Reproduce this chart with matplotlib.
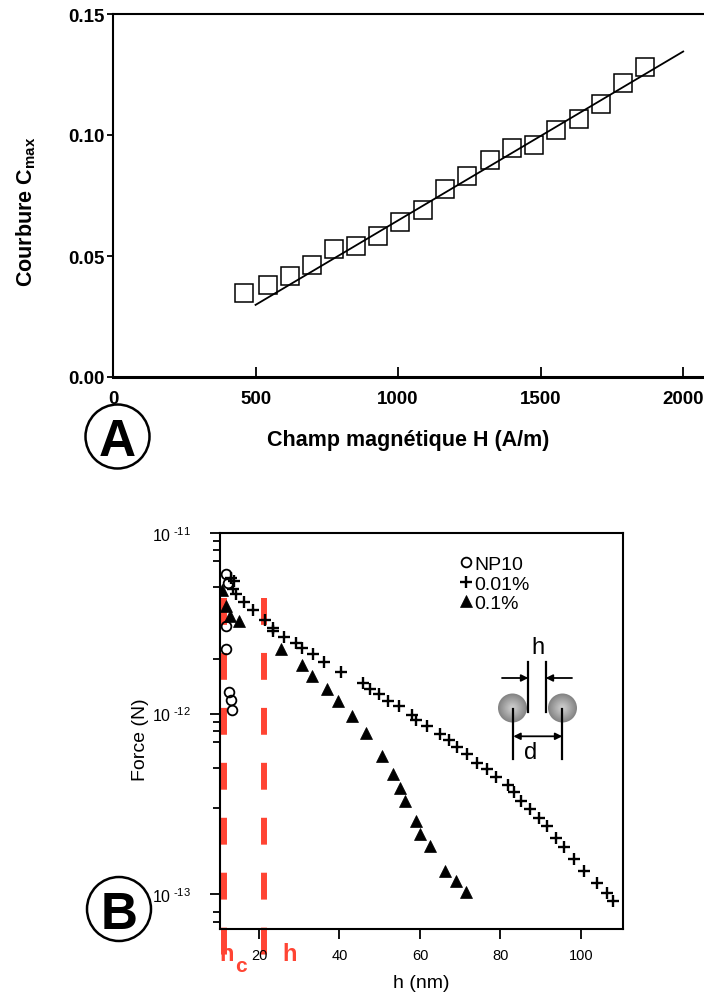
import matplotlib
matplotlib.use("Agg")
import matplotlib.pyplot as plt
from matplotlib.patches import Ellipse, Circle
from matplotlib.transforms import blended_transform_factory
from matplotlib.ticker import FixedLocator, NullFormatter
import numpy as np

plt.rcParams['font.family'] = ['Liberation Sans', 'DejaVu Sans']
plt.rcParams['mathtext.fontset'] = 'custom'
plt.rcParams['mathtext.rm'] = 'Liberation Sans'
plt.rcParams['mathtext.bf'] = 'Liberation Sans:bold'
plt.rcParams['mathtext.default'] = 'regular'

# --- panel A : courbure vs champ
champ_H = [461, 542, 621, 698, 775, 853, 931, 1008, 1087, 1164,
           1242, 1321, 1399, 1476, 1555, 1633, 1710, 1789, 1867]
courbure = [0.0346, 0.0380, 0.0416, 0.0462, 0.0529, 0.0543, 0.0581, 0.0639, 0.0691, 0.0776,
            0.0831, 0.0895, 0.0947, 0.0958, 0.1022, 0.1065, 0.1130, 0.1215, 0.1279]
fit_H = [500, 2000]
fit_C = [0.0298, 0.1345]

# --- panel B : force vs distance
np10_h = [11.8, 12.3, 11.8, 11.8, 12.5, 13.0, 13.4]
np10_F = [5.92e-12, 5.31e-12, 3.04e-12, 2.29e-12, 1.31e-12, 1.19e-12, 1.05e-12]

p001_h = [13.0, 13.8, 13.5, 14.3, 16.2, 18.4, 21.5, 23.4, 23.5, 26.2,
          29.1, 30.6, 33.3, 36.2, 40.4, 45.8, 47.5, 49.8, 52.1, 54.7,
          58.1, 59.0, 61.8, 65.0, 67.1, 69.3, 71.7, 74.1, 76.7, 78.8,
          81.9, 83.3, 85.0, 87.4, 89.5, 91.5, 93.9, 95.8, 98.3, 100.8,
          104.1, 106.6, 108.1]
p001_F = [5.66e-12, 5.39e-12, 4.92e-12, 4.62e-12, 4.17e-12, 3.75e-12, 3.29e-12, 2.98e-12, 2.85e-12, 2.66e-12,
          2.45e-12, 2.30e-12, 2.15e-12, 1.93e-12, 1.70e-12, 1.47e-12, 1.375e-12, 1.278e-12, 1.174e-12, 1.097e-12,
          9.85e-13, 9.18e-13, 8.56e-13, 7.69e-13, 7.15e-13, 6.49e-13, 5.96e-13, 5.31e-13, 4.95e-13, 4.43e-13,
          4.04e-13, 3.70e-13, 3.28e-13, 2.96e-13, 2.65e-13, 2.37e-13, 2.05e-13, 1.83e-13, 1.57e-13, 1.35e-13,
          1.147e-13, 1.014e-13, 9.16e-14]

p01_h = [10.9, 11.8, 12.7, 15.0, 25.5, 30.6, 33.1, 37.0, 39.7, 43.1,
         46.5, 50.6, 53.4, 55.1, 56.3, 59.1, 59.9, 62.4, 66.3, 69.0, 71.4]
p01_F = [4.86e-12, 3.92e-12, 3.47e-12, 3.26e-12, 2.28e-12, 1.85e-12, 1.62e-12, 1.36e-12, 1.18e-12, 9.66e-13,
         7.85e-13, 5.81e-13, 4.65e-13, 3.86e-13, 3.27e-13, 2.55e-13, 2.15e-13, 1.84e-13, 1.35e-13, 1.19e-13, 1.03e-13]

h_c = 11.2
h_lim = 21.2
red = '#ff4433'

y_major = [1e-13, 1e-12, 1e-11]
y_major_labels = [r'10$^{\text{ -13}}$', r'10$^{\text{ -12}}$', r'10$^{\text{ -11}}$']
y_minor = [7e-14, 8e-14, 3e-13, 5e-13, 7e-13, 8e-13, 9e-13, 2e-12, 5e-12, 7e-12, 8e-12, 9e-12]

fig = plt.figure(figsize=(7.04, 9.95), dpi=100)

# ================= A =================
axA = fig.add_axes([113/704, 1 - 378/995, (704 - 113)/704, (378 - 15)/995])
axA.plot(champ_H, courbure, 's', ms=12.5, mfc='none', mec='black', mew=1.1)
axA.plot(fit_H, fit_C, '-', color='black', lw=1.3)
axA.set_xlim(0, 2073)
axA.set_ylim(0, 0.15)
axA.set_xticks([0, 500, 1000, 1500, 2000])
axA.set_yticks([0.00, 0.05, 0.10, 0.15])
axA.set_yticklabels(['0.00', '0.05', '0.10', '0.15'])
axA.spines['right'].set_visible(False)
axA.spines['top'].set_linewidth(1.5)
axA.spines['left'].set_linewidth(1.5)
axA.spines['bottom'].set_linewidth(2.2)
axA.tick_params(axis='x', direction='in', length=7, width=1.3, pad=9, labelsize=13.5)
axA.tick_params(axis='y', direction='out', length=4, width=1.3, pad=2, labelsize=13.5)
for lab in axA.get_xticklabels() + axA.get_yticklabels():
    lab.set_fontweight('bold')
axA.set_xlabel('Champ magnétique H (A/m)', fontsize=15.5, fontweight='bold', labelpad=16)
axA.set_ylabel(r'Courbure C$_{\mathbf{max}}$', fontsize=15.5, fontweight='bold')
axA.yaxis.set_label_coords(-0.127, 0.457)

# ================= B =================
axB = fig.add_axes([220/704, 1 - 930/995, (622.7 - 220)/704, (930 - 534)/995])
l1, = axB.plot(np10_h, np10_F, 'o', ms=7, mfc='none', mec='black', mew=1.3, label='NP10')
l2, = axB.plot(p001_h, p001_F, '+', ms=8.5, mec='black', mew=1.7, label='0.01%')
l3, = axB.plot(p01_h, p01_F, '^', ms=8.3, mfc='black', mec='black', mew=0.5, label='0.1%')
axB.set_yscale('log')
axB.set_xlim(10.3, 110.4)
axB.set_ylim(10**-13.193, 1e-11)
axB.set_xticks([20, 40, 60, 80, 100])
axB.yaxis.set_major_locator(FixedLocator(y_major))
axB.yaxis.set_minor_locator(FixedLocator(y_minor))
axB.yaxis.set_minor_formatter(NullFormatter())
axB.set_yticklabels(y_major_labels)
for s in axB.spines.values():
    s.set_linewidth(1.5)
axB.tick_params(axis='x', direction='out', length=7, width=1.3, pad=7, labelsize=10.5)
axB.tick_params(axis='y', which='major', direction='out', length=7, width=1.3, pad=14, labelsize=11.5)
axB.tick_params(axis='y', which='minor', direction='out', length=5, width=1.3)
axB.set_xlabel('h (nm)', fontsize=14, labelpad=8)
axB.set_ylabel('Force (N)', fontsize=14)
axB.yaxis.set_label_coords(-0.176, 0.48)

leg = axB.legend(handles=[l1, l2, l3], loc='upper left', bbox_to_anchor=(0.6, 0.943),
                 frameon=False, fontsize=14, borderpad=0, handlelength=0.5,
                 handletextpad=0.15, labelspacing=0.1, borderaxespad=0)

# red dashed limits
tr = blended_transform_factory(axB.transData, axB.transAxes)
for xv in [h_c, h_lim]:
    axB.plot([xv, xv], [0.835, -0.065], transform=tr, clip_on=False, color=red,
             lw=4.3, dashes=(4.5, 4.7), solid_capstyle='butt', dash_capstyle='butt', zorder=1)
axB.text(12.0, -0.063, 'h', transform=tr, color=red, fontsize=17, fontweight='bold',
         ha='center', va='center')
axB.text(15.6, -0.093, 'c', transform=tr, color=red, fontsize=15, fontweight='bold',
         ha='center', va='center')
axB.text(27.7, -0.063, 'h', transform=tr, color=red, fontsize=17, fontweight='bold',
         ha='center', va='center')

# inset: two particles, h and d
axI = fig.add_axes([490/704, 1 - 770/995, 95/704, 140/995])
axI.set_xlim(490, 585)
axI.set_ylim(770, 630)
axI.set_axis_off()
for cx in [512.5, 562.5]:
    for i in range(12):
        r = 14.5 * (1 - i / 12.5)
        g = 0.52 + 0.28 * i / 11
        axI.add_patch(Circle((cx, 709), r, color=(g, g, g), lw=0))
ilw = 1.6
axI.plot([528.3, 528.3], [663, 713], color='black', lw=ilw)
axI.plot([545.7, 545.7], [663, 713], color='black', lw=ilw)
axI.plot([513.3, 513.3], [710, 760], color='black', lw=ilw)
axI.plot([562.3, 562.3], [710, 760], color='black', lw=ilw)
axI.annotate('', xy=(528.3, 679), xytext=(502, 679),
             arrowprops=dict(arrowstyle='-|>', color='black', lw=1.3, mutation_scale=10, shrinkA=0, shrinkB=0))
axI.annotate('', xy=(545.7, 679), xytext=(572, 679),
             arrowprops=dict(arrowstyle='-|>', color='black', lw=1.3, mutation_scale=10, shrinkA=0, shrinkB=0))
axI.annotate('', xy=(562.3, 737.3), xytext=(513.3, 737.3),
             arrowprops=dict(arrowstyle='<|-|>', color='black', lw=1.3, mutation_scale=10, shrinkA=0, shrinkB=0))
axI.text(537.5, 648, 'h', fontsize=17, ha='center', va='center')
axI.text(531, 753, 'd', fontsize=17, ha='center', va='center')

# circled panel letters
for (cx, cy, letter) in [(117.5, 437.5, 'A'), (119, 910, 'B')]:
    fig.add_artist(Ellipse((cx/704, 1 - cy/995), 64/704, 64/995, transform=fig.transFigure,
                           fill=False, lw=1.8, color='black'))
    fig.text(cx/704, 1 - cy/995, letter, fontsize=37, fontweight='bold',
             ha='center', va='center_baseline')

fig.savefig('out.png', dpi=100)
